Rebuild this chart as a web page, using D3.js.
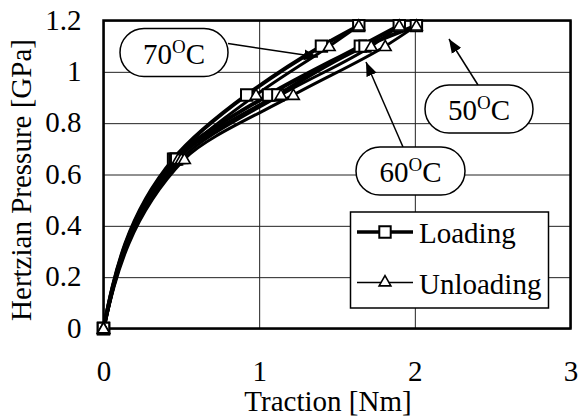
<!DOCTYPE html>
<html>
<head>
<meta charset="utf-8">
<script src="https://cdn.jsdelivr.net/npm/d3@7"></script>
<style>
  body { margin: 0; background: #fff; }
  svg { display: block; font-family: "Liberation Serif", "Times New Roman", serif; }
</style>
</head>
<body>
<svg id="chart" width="581" height="419"></svg>
<script>
// Hertzian pressure levels (GPa) shared by every run
const pressure = [0, 0.66, 0.91, 1.1, 1.18];

// traction (Nm) at each pressure level
const load70 = [0, 0.45, 0.92, 1.40, 1.64];
const unload70 = [0, 0.48, 0.98, 1.45, 1.64];
const load60 = [0, 0.46, 1.06, 1.65, 1.90];
const unload60 = [0, 0.50, 1.14, 1.72, 1.90];
const load50 = [0, 0.47, 1.12, 1.68, 2.01];
const unload50 = [0, 0.52, 1.22, 1.81, 2.01];

const xTicks = [0, 1, 2, 3];
const yTicks = [0, 0.2, 0.4, 0.6, 0.8, 1, 1.2];

const svg = d3.select('#chart');
const margin = { left: 103.5, top: 20.5, right: 10.5, bottom: 90.5 };
const width = 581 - margin.left - margin.right;
const height = 419 - margin.top - margin.bottom;
const fs = '29px';

const x = d3.scaleLinear().domain([0, 3]).range([0, width]);
const y = d3.scaleLinear().domain([0, 1.2]).range([height, 0]);

const g = svg.append('g').attr('transform', `translate(${margin.left},${margin.top})`);

// gridlines
g.append('g')
    .attr('transform', `translate(0,${height})`)
    .call(d3.axisBottom(x).tickValues(xTicks).tickSize(-height).tickFormat(''))
    .call(a => a.select('.domain').remove())
    .selectAll('line').attr('stroke', '#222').attr('stroke-width', 1);

g.append('g')
    .call(d3.axisLeft(y).tickValues(yTicks).tickSize(-width).tickFormat(''))
    .call(a => a.select('.domain').remove())
    .selectAll('line').attr('stroke', '#222').attr('stroke-width', 1);

// tick labels
const xAxis = g.append('g')
    .attr('transform', `translate(0,${height})`)
    .call(d3.axisBottom(x).tickValues(xTicks).tickSize(0).tickFormat(d3.format('d')));
xAxis.select('.domain').remove();
xAxis.selectAll('text')
    .attr('y', 52).attr('dy', null)
    .style('font-size', fs).style('font-family', 'Liberation Serif').attr('fill', '#000');

const yAxis = g.append('g')
    .call(d3.axisLeft(y).tickValues(yTicks).tickSize(0).tickFormat(d => d));
yAxis.select('.domain').remove();
yAxis.selectAll('text')
    .attr('x', -22).attr('dy', '0.3em')
    .style('font-size', fs).style('font-family', 'Liberation Serif').attr('fill', '#000');

// plot border
g.append('rect')
    .attr('width', width).attr('height', height)
    .attr('fill', 'none').attr('stroke', '#000').attr('stroke-width', 2.5);

// axis titles
svg.append('text')
    .attr('x', 328).attr('y', 411)
    .attr('text-anchor', 'middle')
    .style('font-size', fs)
    .text('Traction [Nm]');

svg.append('text')
    .attr('transform', 'translate(31,180) rotate(-90)')
    .attr('text-anchor', 'middle')
    .style('font-size', fs)
    .text('Hertzian Pressure [GPa]');

// series
const series = [
    { vals: load70, type: 'load' },
    { vals: load60, type: 'load' },
    { vals: load50, type: 'load' },
    { vals: unload70, type: 'unload' },
    { vals: unload60, type: 'unload' },
    { vals: unload50, type: 'unload' }
];

const line = d3.line()
    .x(d => x(d[0]))
    .y(d => y(d[1]))
    .curve(d3.curveMonotoneY);

const sq = d3.symbol().type(d3.symbolSquare).size(130);
const tri = d3.symbol().type(d3.symbolTriangle).size(60);

series.forEach(s => {
    const pts = s.vals.map((v, i) => [v, pressure[i]]);
    g.append('path')
        .datum(pts)
        .attr('d', line)
        .attr('fill', 'none')
        .attr('stroke', '#000')
        .attr('stroke-width', s.type === 'load' ? 4 : 3);
});

series.forEach(s => {
    const pts = s.vals.map((v, i) => [v, pressure[i]]);
    g.selectAll(null)
        .data(pts)
        .enter().append('path')
        .attr('transform', d => `translate(${x(d[0])},${y(d[1]) + (s.type === 'load' ? 0 : 1)})`)
        .attr('d', s.type === 'load' ? sq : tri)
        .attr('fill', '#fff')
        .attr('stroke', '#000')
        .attr('stroke-width', s.type === 'load' ? 2 : 1.6);
});

// arrowhead
svg.append('defs').append('marker')
    .attr('id', 'arrow')
    .attr('viewBox', '0 0 14 12')
    .attr('refX', 14).attr('refY', 6)
    .attr('markerWidth', 14).attr('markerHeight', 12)
    .attr('markerUnits', 'userSpaceOnUse')
    .attr('orient', 'auto')
    .append('path').attr('d', 'M0,0.5 L14,6 L0,11.5 Z').attr('fill', '#000');

// temperature callouts
const callouts = [
    { label: '70', x: 120, y: 28.5, w: 108, h: 48, from: [228, 43.5], to: [318, 57] },
    { label: '60', x: 356, y: 147, w: 109, h: 48, from: [403, 147], to: [366, 62] },
    { label: '50', x: 425, y: 85, w: 108, h: 48, from: [478, 85], to: [449, 39] }
];

callouts.forEach(c => {
    svg.append('line')
        .attr('x1', c.from[0]).attr('y1', c.from[1])
        .attr('x2', c.to[0]).attr('y2', c.to[1])
        .attr('stroke', '#000').attr('stroke-width', 1.5)
        .attr('marker-end', 'url(#arrow)');
    svg.append('rect')
        .attr('x', c.x).attr('y', c.y)
        .attr('width', c.w).attr('height', c.h)
        .attr('rx', c.h / 2).attr('ry', c.h / 2)
        .attr('fill', '#fff').attr('stroke', '#000').attr('stroke-width', 1.5);
    const t = svg.append('text')
        .attr('x', c.x + c.w / 2).attr('y', c.y + 35)
        .attr('text-anchor', 'middle')
        .style('font-size', fs);
    t.append('tspan').text(c.label);
    t.append('tspan').attr('dy', -11).style('font-size', '19px').text('O');
    t.append('tspan').attr('dy', 11).text('C');
});

// legend
const lg = svg.append('g');
lg.append('rect')
    .attr('x', 350.5).attr('y', 212).attr('width', 198).attr('height', 96)
    .attr('fill', '#fff').attr('stroke', '#000').attr('stroke-width', 1.5);

const legendItems = [
    { name: 'Loading', type: 'load', y: 232 },
    { name: 'Unloading', type: 'unload', y: 282.5 }
];
legendItems.forEach(it => {
    lg.append('line')
        .attr('x1', 357).attr('x2', 413).attr('y1', it.y).attr('y2', it.y)
        .attr('stroke', '#000').attr('stroke-width', it.type === 'load' ? 3.5 : 1.5);
    lg.append('path')
        .attr('transform', `translate(385,${it.y})`)
        .attr('d', it.type === 'load' ? sq : tri)
        .attr('fill', '#fff').attr('stroke', '#000')
        .attr('stroke-width', it.type === 'load' ? 2 : 1.6);
    lg.append('text')
        .attr('x', 419).attr('y', it.y + 11)
        .style('font-size', fs)
        .text(it.name);
});
</script>
</body>
</html>
